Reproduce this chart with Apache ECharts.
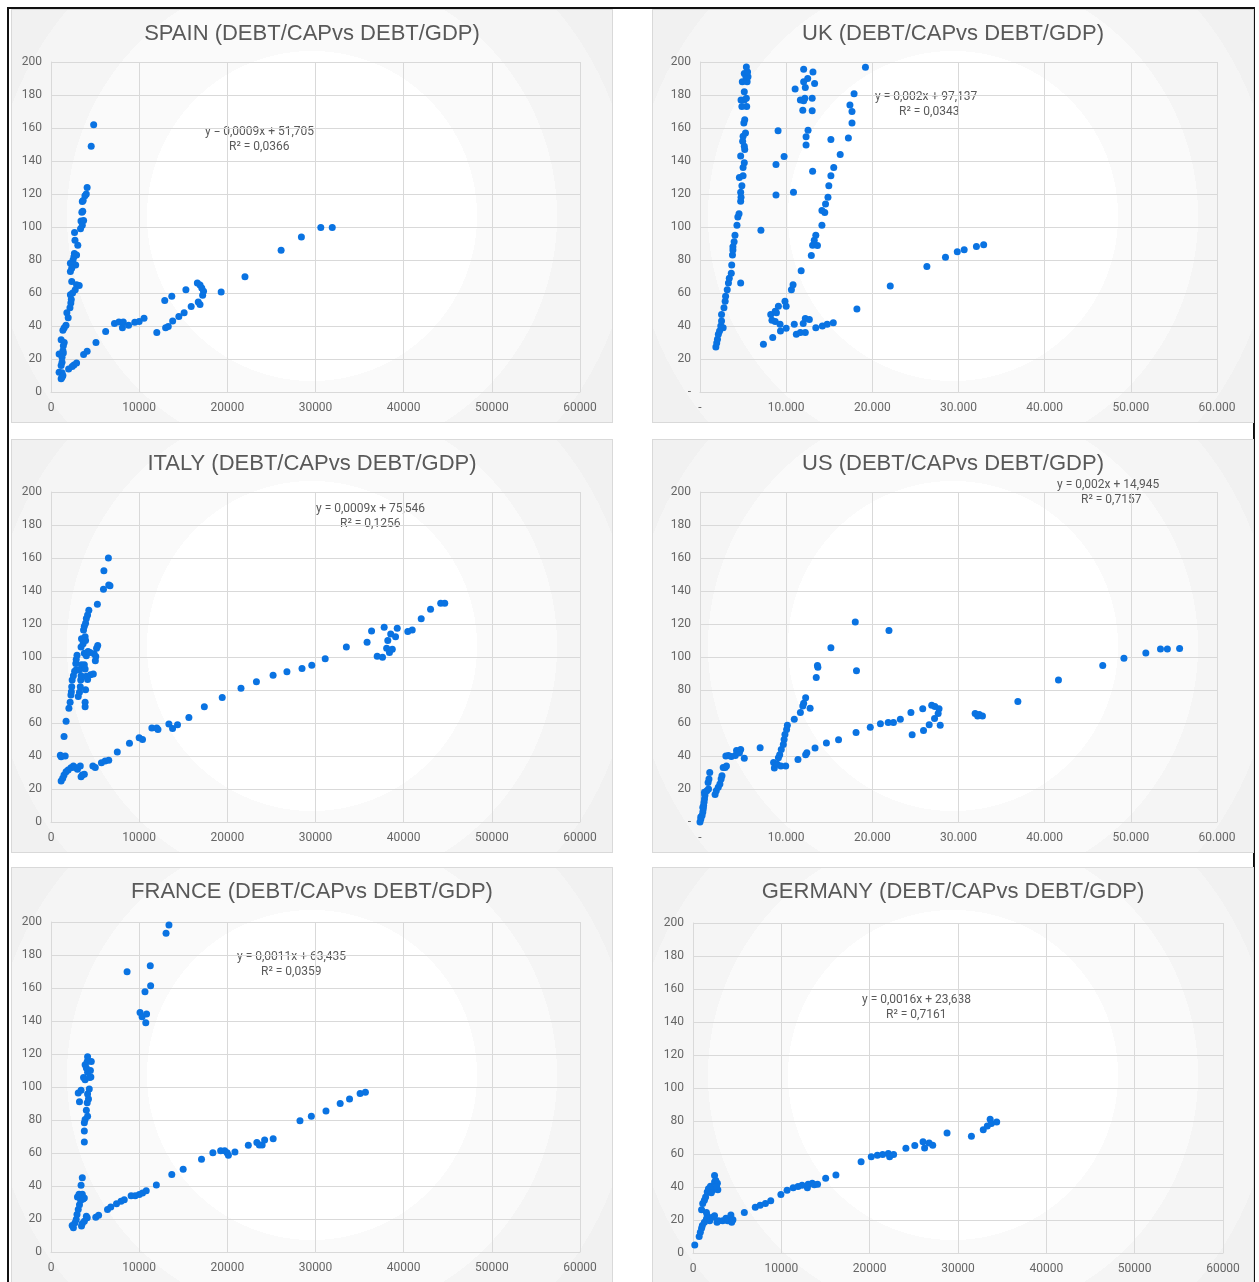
<!DOCTYPE html>
<html>
<head>
<meta charset="utf-8">
<script src="https://cdn.jsdelivr.net/npm/echarts@6/dist/echarts.min.js"></script>
<style>
  html, body { margin: 0; padding: 0; background: #fff; }
  body { width: 1259px; height: 1282px; position: relative; overflow: hidden; }
  .frame {
    position: absolute; left: 7px; top: 7px; width: 1244px; height: 1300px;
    border: 2px solid #111;
  }
  .panel {
    position: absolute; width: 602px; height: 414px;
    border: 1px solid #d9d9d9; box-sizing: border-box;
    background: radial-gradient(circle at 50% 50%,
      #ffffff 0, #ffffff 165px,
      #fafafa 165px, #fafafa 245px,
      #f5f5f5 245px, #f5f5f5 320px,
      #f1f1f1 320px);
  }
</style>
</head>
<body>
<div class="frame"></div>
<div id="spain" class="panel" style="left:11px;top:9px;"></div>
<div id="uk" class="panel" style="left:652px;top:9px;"></div>
<div id="italy" class="panel" style="left:11px;top:439px;"></div>
<div id="us" class="panel" style="left:652px;top:439px;"></div>
<div id="france" class="panel" style="left:11px;top:867px;height:416px;"></div>
<div id="germany" class="panel" style="left:652px;top:867px;height:416px;"></div>
<script>
// debt per capita (x) vs debt/gdp (y)
const spainPoints = [
  [4840,162],[4560,149],[4100,124],[4000,120],[3850,119],[3550,115.5],[3650,116],[3500,109],[3600,109.5],
  [3400,103.7],[3700,104],[3350,99],[3550,101],[2670,96.7],[2720,92],[3040,88.9],[2650,84],[2900,83],
  [2600,82],[2500,80],[2800,77],[2200,78],[2350,75],[2200,73],[2350,67],[2900,65],[3200,64.6],[2750,62],
  [2450,60],[2200,59],[2300,56],[2250,54],[2150,51],[1800,48],[1950,45],[1700,40.5],[1500,39],[1350,37.5],
  [1150,31.7],[1500,30],[1400,28],[1350,25],[1400,23.7],[920,23],[1250,21],[1250,18],[1150,16],[920,12],
  [1250,11.6],[1350,10],[1150,8],[1250,9],
  [2000,14],[2400,15.5],[2600,16.4],[2900,17.6],[3700,22.7],[4100,24.7],[5100,30],[6200,36.7],[7200,41.5],
  [7700,42.5],[8100,39],[8200,42.5],[8800,40.5],[9500,42.3],[10000,42.7],[10550,44.7],[12000,36],[12900,55.4],
  [13000,39],[13300,39.7],[13700,58],[13800,43],[14500,45.7],[15100,48],[15300,62],[15900,51.8],[16700,54.6],
  [16900,53],[16600,66],[16900,64.8],[17100,63],[17300,61],[17200,58.6],[19300,60.6],[22000,69.8],
  [26100,85.9],[28400,93.9],[30600,99.7],[31900,99.7]
];
const ukPoints = [
  [1840,27.3],[1940,29.7],[2030,32],[2130,35],[2270,37],[2410,40],[2500,43],[2500,47],[2690,39],[2780,51],
  [2920,55],[2970,58],[3160,62],[3300,66],[3400,69],[3630,72],[3680,77],[3770,83],[3820,86],[3820,88],
  [3960,91],[4060,95],[4290,101],[4390,106],[4530,108],[4720,115.6],[4760,118],[4720,121],[4860,125],
  [4570,130],[5000,131],[5000,136],[5140,139],[4720,143],[5190,147],[5140,149],[4950,152],[5000,155],
  [5280,157],[5090,163],[5190,165],[5420,173],[4860,173],[5140,177],[4760,177],[5380,178],[5140,182],
  [4910,188],[5470,188],[5330,191],[5570,191],[5140,193],[5520,194],[5380,197],
  [4720,66],[7070,98],
  [7360,29],[8440,33],[8210,47],[8350,43.5],[8730,49],[9100,52],[9860,55],[10000,52],[8870,48],[8730,42.7],
  [9290,41],[9340,37],[10000,38.6],[10940,41],[11180,35],[11650,36],[12220,36],[11980,41.5],[12220,44.5],
  [12690,44],[13440,39],[14200,40],[14760,41],[15470,42],
  [10610,62],[10800,65],[11740,73.5],[12920,82.8],[13070,89],[13630,88.8],[13260,92],[13440,95],[14150,101],
  [14480,108.8],[14150,110],[14570,114],[14850,118],[14950,125],[15190,131],[15520,136],[16270,144],[15190,153],
  [17220,154],[17640,163],[17640,170],[17400,174],[17880,180.8],[19200,196.8],
  [18210,50.3],[22080,64.3],[26330,76],[28490,81.6],[29860,85],[30660,86.2],[32080,88.2],[32920,89.2],
  [9060,158.3],[9760,142.7],[8820,137.9],[8820,119.4],[10850,121],[11040,183.6],[12030,195.6],[13110,194],
  [13300,187],[12500,190],[12030,188],[12220,184.5],[11650,177],[12030,176.5],[12170,178],[13020,178],
  [11930,170.7],[13020,170.5],[12540,158.7],[12310,154.7],[12310,149.7],[13070,133.8]
];
const italyPoints = [
  [1150,24.9],[1330,26.5],[1480,28.5],[1710,30.5],[1940,31.5],[2260,32.9],[2540,34],[2720,33],[3000,32],
  [3320,34],[3410,27.5],[3550,28.5],[3780,29],[4750,34],[5020,33],[5720,35.9],[6140,36.9],[6550,37.5],
  [7520,42.5],[8900,47.7],[10000,51],[10380,50],[11440,57],[12130,56],[11990,57],[13370,59.4],[13790,56.6],
  [14350,59],[15640,63.4],[17390,69.8],[19420,75.4],[21550,81],[23300,85],[25190,89],[26760,91],[28470,93],
  [29580,95],[31100,99],[33500,106],[35850,109],[36360,115.7],[37000,100.5],[37600,99.9],[37790,118],
  [38070,105.3],[38200,110],[38390,102.7],[38530,114],[38710,104.7],[39080,112.3],[39270,117.5],[40470,115.5],
  [40970,116.4],[41990,123.2],[43050,129],[44200,132.6],[44660,132.6],
  [1060,40.5],[1150,39.5],[1610,40],[1480,51.8],[1710,61],[2030,69],[2170,72.6],[2260,77],[2310,79],
  [2350,82],[2400,86],[2540,88.7],[2680,91.3],[2860,92.3],[2810,96],[2860,98.5],[2950,101],[3230,92.3],
  [3090,76],[3230,78.6],[3320,82],[3370,86],[3410,88.7],[3460,95.3],[3410,106],[3460,111],[3640,108],
  [3690,116.3],[3780,118.7],[3920,120.4],[4010,123.4],[4150,125.4],[4290,128.4],[3870,112.3],[3920,110],
  [3780,102.3],[4010,100.7],[4200,103.3],[3780,95.3],[3870,92.7],[4010,88.3],[4150,86.3],[3920,80.2],
  [3870,72.6],[3870,69.8],[4480,89.3],[4800,89.7],[4430,102.7],[4890,102],[5080,100.3],[5030,97.7],
  [5170,105.3],[5300,107],[5260,132],[5950,141],[6000,152.3],[6510,160],[6550,143.6],[6690,143.2]
];
const usPoints = [
  [0,0],[100,1.8],[90,3],[240,4],[330,6],[380,8],[330,9],[420,10],[470,12],[520,14],[570,16],[550,17],
  [520,18],[800,19],[990,20],[940,24],[1040,26],[1130,30],
  [1750,16.6],[1890,19],[2120,21],[2310,23],[2450,26],[2550,28],[2690,33],[2920,33],[3070,34],
  [3000,40],[3300,40.3],[3630,39.7],[4100,40.3],[4240,43.3],[4720,44],[4580,42],[5140,38.7],[6980,45],
  [8630,32.7],[8540,36],[8960,35],[9100,39],[9250,40.7],[9430,44],[9670,47],[9760,50],[9860,53],
  [10050,56],[10140,58.7],[9950,34],[9390,34],[10940,62.3],[11650,66.3],[11930,70.3],[12030,72],
  [12260,75.3],[12780,69],[13490,87.6],[13680,93.8],[13630,94.8],[15190,105.6],[18020,121.2],[21930,116],
  [18160,91.6],[11370,37.9],[12260,40.7],[12400,42],[13350,44.9],[14670,47.9],[16080,49.9],[18110,54.3],
  [19760,57.5],[20940,59.5],[21840,60.3],[22450,60.3],[23250,62.3],[24480,66.3],[24620,52.9],[25850,68.7],
  [25940,55.5],[26600,58.9],[26890,70.7],[27260,70],[27740,68.7],[27640,65.7],[27220,62.7],[27880,58.7],
  [31930,65.7],[32220,64.3],[32410,65.1],[32780,64.3],[36890,73.1],[41600,86],[46740,94.8],[49200,99.2],
  [51740,102.4],[53440,104.8],[54240,104.8],[55660,105.2]
];
const francePoints = [
  [2400,16],[2540,14.7],[2720,17.7],[2860,19.7],[2950,22.7],[3090,25.7],[3230,28.7],[3370,31.3],[3000,33.3],
  [3180,35],[3550,35],[3640,32.1],[3780,32.7],[3410,40.5],[3550,45],[3460,15.7],[3550,17.3],[3780,18.7],
  [4010,21.7],[4110,20.7],[5080,21.1],[5400,22.3],[6410,25.7],[6780,27.3],[7430,29.3],[7940,30.7],[8310,31.7],
  [9090,34.1],[9550,34.1],[10010,34.9],[10380,35.7],[10800,37.1],[11950,40.6],[13700,47],[14990,50.2],
  [17070,56.2],[18360,60.2],[19240,61.4],[19700,61.4],[19980,60.2],[20120,58.6],[20860,60.6],[22380,64.7],
  [23350,66.3],[23630,64.9],[23950,64.9],[24230,67.9],[25200,68.7],[28240,79.5],[29530,82.3],[31190,85.5],
  [32800,90],[33860,92.8],[35060,96],[35660,96.8],
  [3780,66.7],[3780,73.3],[3780,78.3],[3870,80.3],[4150,82.3],[4010,85.9],[4110,90.4],[4250,92.8],[4150,95.8],
  [4340,98.8],[3090,96.4],[3410,98],[3230,91],[3690,105.8],[3870,104.4],[4380,105.8],[4520,106],[4150,109],
  [4470,110],[3870,113.5],[4110,115.5],[4570,115.5],[4010,111.5],[4150,118.3],
  [8630,169.9],[10100,145.2],[10330,142.6],[10840,144.2],[10750,139],[10660,157.8],[11300,161.4],[11260,173.5],
  [13050,193.2],[13380,198.2]
];
const germanyPoints = [
  [200,4.8],[700,10],[830,12.6],[970,15],[1060,16.6],[1290,18.6],[1520,20.6],[1610,22.6],[970,26.2],
  [1100,30],[1290,32],[1430,34],[1610,37],[1750,39],[1980,40.5],[2210,38],[2440,43],[2440,47],[2580,44],
  [2760,42.3],[2810,38.3],[2670,40.3],[2070,36.5],[1520,24.6],[1660,21],[1890,19.6],[2210,21.6],[2440,22.6],
  [2720,18.6],[2900,19.6],[3360,19.6],[3730,21],[3920,19.6],[4290,23],[4380,18.6],[4520,20.2],[5810,24.6],
  [7050,27.7],[7600,29],[8200,30],[8800,31.7],[9950,35.5],[10650,38],[11340,39.5],[11890,40.3],[12350,41],
  [12950,39.5],[13040,41.7],[13500,42.2],[13730,41.3],[14100,41.7],[15020,45.3],[16180,47.3],[19030,55.3],
  [20180,58.3],[20870,59.3],[21470,59.7],[22110,60.3],[22260,58.3],[22710,59.7],[24100,63.5],[25110,65.1],
  [26040,67.5],[26220,63.7],[26730,66.7],[27140,65.3],[28760,72.7],[31520,70.7],[32860,74.7],[33320,77],
  [33640,81],[33780,78.5],[34380,79.4]
];

const dotColor = '#0a73e2'
const textColor = '#595959'
const labelColor = '#666666'
const lineColor = '#d9d9d9'
const labelFont = 'Roboto, "Liberation Sans", sans-serif'

function dotFormat(v) {
  if (v === 0) return '-'
  return String(v).replace(/\B(?=(\d{3})+(?!\d))/g, '.')
}

function makeChart(opt) {
  const chart = echarts.init(document.getElementById(opt.el))
  chart.setOption({
    animation: false,
    textStyle: { fontFamily: labelFont },
    title: {
      text: opt.title,
      left: 'center',
      top: 8,
      textStyle: { fontSize: 22, fontWeight: 'normal', color: textColor, fontFamily: '"Liberation Sans", Arial, sans-serif' }
    },
    grid: opt.grid,
    xAxis: {
      type: 'value',
      min: 0,
      max: 60000,
      interval: 10000,
      axisLine: { show: true, lineStyle: { color: lineColor } },
      axisTick: { show: false },
      axisLabel: {
        color: labelColor, fontSize: 12, margin: 10,
        formatter: opt.dotted ? dotFormat : function (v) { return String(v) }
      },
      splitLine: { show: true, lineStyle: { color: lineColor } }
    },
    yAxis: {
      type: 'value',
      min: 0,
      max: 200,
      interval: 20,
      axisLine: { show: true, lineStyle: { color: lineColor } },
      axisTick: { show: false },
      axisLabel: {
        color: labelColor, fontSize: 12, margin: 9,
        formatter: opt.dotted ? function (v) { return v === 0 ? '-' : String(v) } : function (v) { return String(v) }
      },
      splitLine: { show: true, lineStyle: { color: lineColor } }
    },
    graphic: [
      {
        type: 'text', left: opt.eqPos[0], top: opt.eqPos[1],
        style: { text: opt.eq, fill: textColor, font: '12px ' + labelFont }
      },
      {
        type: 'text', left: opt.eqPos[0] + 24, top: opt.eqPos[1] + 15,
        style: { text: opt.r2, fill: textColor, font: '12px ' + labelFont }
      }
    ],
    series: [{
      type: 'scatter',
      symbolSize: 7,
      itemStyle: { color: dotColor, opacity: 1 },
      data: opt.data
    }]
  })
}

makeChart({
  el: 'spain', title: 'SPAIN (DEBT/CAPvs DEBT/GDP)', data: spainPoints,
  grid: { left: 39, right: 32, top: 52, bottom: 30 },
  eq: 'y = 0,0009x + 51,705', r2: 'R² = 0,0366', eqPos: [193, 116]
})
makeChart({
  el: 'uk', title: 'UK (DEBT/CAPvs DEBT/GDP)', data: ukPoints, dotted: true,
  grid: { left: 47, right: 36, top: 52, bottom: 30 },
  eq: 'y = 0,002x + 97,137', r2: 'R² = 0,0343', eqPos: [222, 81]
})
makeChart({
  el: 'italy', title: 'ITALY (DEBT/CAPvs DEBT/GDP)', data: italyPoints,
  grid: { left: 39, right: 32, top: 52, bottom: 30 },
  eq: 'y = 0,0009x + 75,546', r2: 'R² = 0,1256', eqPos: [304, 63]
})
makeChart({
  el: 'us', title: 'US (DEBT/CAPvs DEBT/GDP)', data: usPoints, dotted: true,
  grid: { left: 47, right: 36, top: 52, bottom: 30 },
  eq: 'y = 0,002x + 14,945', r2: 'R² = 0,7157', eqPos: [404, 39]
})
makeChart({
  el: 'france', title: 'FRANCE (DEBT/CAPvs DEBT/GDP)', data: francePoints,
  grid: { left: 39, right: 32, top: 54, bottom: 30 },
  eq: 'y = 0,0011x + 63,435', r2: 'R² = 0,0359', eqPos: [225, 83]
})
makeChart({
  el: 'germany', title: 'GERMANY (DEBT/CAPvs DEBT/GDP)', data: germanyPoints,
  grid: { left: 40, right: 30, top: 55, bottom: 29 },
  eq: 'y = 0,0016x + 23,638', r2: 'R² = 0,7161', eqPos: [209, 126]
})
</script>
</body>
</html>
